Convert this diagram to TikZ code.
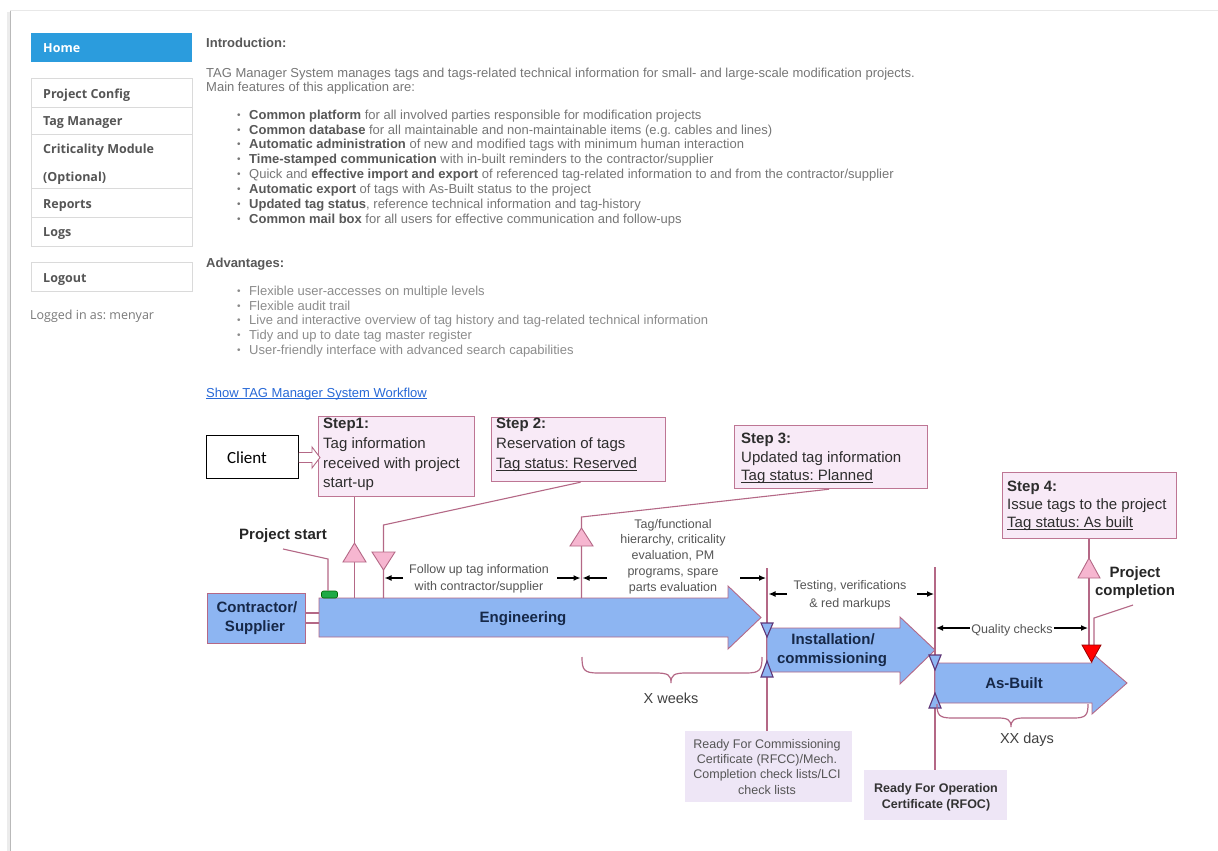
\documentclass[tikz,border=0pt]{standalone}
\usepackage{fontspec}
\setmainfont{Liberation Sans}
\newfontfamily\osans{Open Sans}
\newfontfamily\carl{Carlito}
\usetikzlibrary{arrows.meta}
\frenchspacing
\definecolor{linec}{RGB}{180,104,134}
\definecolor{boxc}{RGB}{190,118,148}
\definecolor{stepfill}{RGB}{248,234,247}
\definecolor{pinkfill}{RGB}{246,182,208}
\definecolor{arrowfill}{RGB}{141,181,242}
\definecolor{btric}{RGB}{95,55,120}
\definecolor{navy}{RGB}{22,40,72}
\definecolor{stepc}{RGB}{45,45,45}
\definecolor{smallc}{RGB}{85,85,85}
\definecolor{homeblue}{RGB}{43,156,221}
\definecolor{sidec}{RGB}{85,85,85}
\definecolor{sideline}{RGB}{218,218,218}
\definecolor{introreg}{RGB}{118,118,118}
\definecolor{introbold}{RGB}{88,88,88}
\definecolor{advc}{RGB}{140,140,140}
\definecolor{linkc}{RGB}{40,105,215}
\definecolor{lavfill}{RGB}{238,230,246}
\definecolor{gmark}{RGB}{30,170,70}
\newcommand\hb[1]{\textcolor{introbold}{\textbf{#1}}}
\newcommand\bul{\makebox[12pt][l]{\raisebox{0.5pt}{\fontsize{10}{10}\selectfont\textbullet}}}
\newcommand\ulin[1]{\underline{\smash{#1}}}
\begin{document}
\begin{tikzpicture}[x=1pt,y=-1pt,
  ln/.style={draw=linec, line width=1.1pt},
  sidebox/.style={draw=sideline, line width=0.8pt, anchor=north west, inner sep=0},
  sidetx/.style={anchor=mid west, inner sep=0, yshift=-3pt, text=sidec, font=\osans\bfseries\fontsize{12.5}{15}\selectfont},
  ptxt/.style={anchor=mid west, inner sep=0, yshift=-2.5pt, text=introreg, font=\fontsize{13}{15}\selectfont},
  atxt/.style={anchor=mid west, inner sep=0, yshift=-2.5pt, text=advc, font=\fontsize{13}{15}\selectfont},
  stepbox/.style={draw=boxc, fill=stepfill, line width=1.2pt, anchor=north west, inner sep=0},
  steptx/.style={anchor=mid west, inner sep=0, yshift=-3pt, text=stepc, font=\fontsize{15}{18}\selectfont},
  smalltx/.style={anchor=mid, inner sep=0, yshift=-2.5pt, text=smallc, font=\fontsize{12.5}{15}\selectfont},
  boldtx/.style={anchor=mid, inner sep=0, yshift=-3pt, text=black!85, font=\bfseries\fontsize{15}{18}\selectfont},
  navytx/.style={anchor=mid, inner sep=0, yshift=-3pt, text=navy, font=\bfseries\fontsize{15}{18}\selectfont},
  blockarrow/.style={fill=arrowfill, draw=linec, line width=0.9pt},
  ptri/.style={fill=pinkfill, draw=linec, line width=0.9pt},
  btri/.style={fill=arrowfill, draw=btric, line width=1.1pt},
  dimarr/.style={-{Latex[length=7pt,width=6pt]}, line width=1.3pt, black},
  lavbox/.style={fill=lavfill, anchor=north west, inner sep=0},
]
\useasboundingbox (0,0) rectangle (1218,851);
\fill[white] (0,0) rectangle (1218,851);
% page frame
\draw[gray!18, line width=1pt] (10,11) -- (1218,11);
\draw[gray!15, line width=3pt] (8,12) -- (8,851);
\draw[gray!55, line width=1.3pt] (10.5,11) -- (10.5,851);

% ---------- sidebar ----------
\node[anchor=north west, fill=homeblue, minimum width=161pt, minimum height=29pt, inner sep=0] (home) at (31,33) {};
\node[sidetx, text=white] (hometx) at (43,47) {Home};
\node[sidebox, minimum width=161pt, minimum height=168pt] (menu) at (31,78) {};
\foreach \yy in {107,134,188,217} \draw[sideline, line width=0.8pt] (31,\yy) -- (192,\yy);
\node[sidetx] (m1) at (43,93) {Project Config};
\node[sidetx] (m2) at (43,120) {Tag Manager};
\node[sidetx] (m3) at (43,148) {Criticality Module};
\node[sidetx] (m4) at (43,176) {(Optional)};
\node[sidetx] (m5) at (43,203) {Reports};
\node[sidetx] (m6) at (43,231) {Logs};
\node[sidebox, minimum width=161pt, minimum height=29pt] (logout) at (31,262) {};
\node[sidetx] (logouttx) at (43,277) {Logout};
\node[sidetx, font=\osans\fontsize{12.5}{15}\selectfont, text=gray!95!black] (logged) at (30,314) {Logged in as: menyar};

% ---------- introduction ----------
\node[ptxt, text=introbold, font=\bfseries\fontsize{13}{15}\selectfont] (intro) at (206,42) {Introduction:};
\node[ptxt] (p1) at (206,72) {TAG Manager System manages tags and tags-related technical information for small- and large-scale modification projects.};
\node[ptxt] (p2) at (206,86) {Main features of this application are:};
\node[ptxt] (b1) at (237,114) {\bul\hb{Common platform} for all involved parties responsible for modification projects};
\node[ptxt] (b2) at (237,129) {\bul\hb{Common database} for all maintainable and non-maintainable items (e.g. cables and lines)};
\node[ptxt] (b3) at (237,143) {\bul\hb{Automatic administration} of new and modified tags with minimum human interaction};
\node[ptxt] (b4) at (237,158) {\bul\hb{Time-stamped communication} with in-built reminders to the contractor/supplier};
\node[ptxt] (b5) at (237,173) {\bul Quick and \hb{effective import and export} of referenced tag-related information to and from the contractor/supplier};
\node[ptxt] (b6) at (237,188) {\bul\hb{Automatic export} of tags with As-Built status to the project};
\node[ptxt] (b7) at (237,203) {\bul\hb{Updated tag status}, reference technical information and tag-history};
\node[ptxt] (b8) at (237,218) {\bul\hb{Common mail box} for all users for effective communication and follow-ups};

\node[ptxt, text=introbold, font=\bfseries\fontsize{13}{15}\selectfont] (adv) at (206,262) {Advantages:};
\node[atxt] (a1) at (237,290) {\bul Flexible user-accesses on multiple levels};
\node[atxt] (a2) at (237,305) {\bul Flexible audit trail};
\node[atxt] (a3) at (237,319) {\bul Live and interactive overview of tag history and tag-related technical information};
\node[atxt] (a4) at (237,334) {\bul Tidy and up to date tag master register};
\node[atxt] (a5) at (237,349) {\bul User-friendly interface with advanced search capabilities};
\node[ptxt, text=linkc] (link) at (206,392) {\ulin{Show TAG Manager System Workflow}};

% ---------- diagram: vertical lines (behind) ----------
\node[lavbox, minimum width=167pt, minimum height=71pt] (rfcc) at (685,731) {};
\node[lavbox, minimum width=143pt, minimum height=50pt] (rfoc) at (864,770) {};
\coordinate (v1t) at (767,568);
\coordinate (v2t) at (935,567);
\draw[ln, line width=1.3pt] (v1t) -- (v1t |- rfcc.north);
\draw[ln, line width=1.3pt] (v2t) -- (v2t |- rfoc.north);

% ---------- block arrows ----------
\filldraw[blockarrow] (319,598) -- (728,598) -- (728,586) -- (761,617.5) -- (728,649) -- (728,637) -- (319,637) -- cycle;
\filldraw[blockarrow] (767,628) -- (900,628) -- (900,617) -- (935,650) -- (900,684) -- (900,672) -- (767,672) -- cycle;
\filldraw[blockarrow] (935,663) -- (1092,663) -- (1092,653) -- (1127,683) -- (1092,714) -- (1092,703) -- (935,703) -- cycle;
\node[navytx] (eng) at (523,617) {Engineering};
\node[navytx] (inst1) at (833,639) {Installation/};
\node[navytx] (inst2) at (832,658) {commissioning};
\node[navytx] (asb) at (1014,683) {As-Built};

% contractor box
\node[anchor=north west, fill=arrowfill, draw=linec, line width=1.2pt, minimum width=98pt, minimum height=50pt, inner sep=0] (ctr) at (207,593) {};
\node[navytx] (ctr1) at (257,607) {Contractor/};
\node[navytx] (ctr2) at (255,626) {Supplier};
\draw[ln] (ctr.east |- 0,613) -- (319,613);
\draw[ln] (ctr.east |- 0,623) -- (319,623);

% ---------- client and steps ----------
\node[draw=black, fill=white, line width=0.8pt, anchor=north west, minimum width=92pt, minimum height=43pt, inner sep=0] (client) at (206,435) {};
\node[inner sep=0, font=\carl\fontsize{17}{20}\selectfont] (clienttx) at (247,458) {Client};

\node[stepbox, minimum width=156pt, minimum height=80pt] (s1) at (318,416) {};
\node[stepbox, minimum width=174pt, minimum height=64pt] (s2) at (491,417) {};
\node[stepbox, minimum width=193pt, minimum height=63pt] (s3) at (734,425) {};
\node[stepbox, minimum width=174pt, minimum height=66pt] (s4) at (1002,472) {};

\filldraw[draw=linec, fill=white, line width=0.9pt] (client.east |- 0,452.5) -- (312,452.5) -- (312,447) -- (320,457.5) -- (312,468) -- (312,462.5) -- (client.east |- 0,462.5);

\node[steptx] (s1a) at (323,423) {\textbf{Step1:}};
\node[steptx] (s1b) at (323,443) {Tag information};
\node[steptx] (s1c) at (323,463) {received with project};
\node[steptx] (s1d) at (323,482) {start-up};
\node[steptx] (s2a) at (496,423) {\textbf{Step 2:}};
\node[steptx] (s2b) at (496,443) {Reservation of tags};
\node[steptx] (s2c) at (496,463) {\ulin{Tag status: Reserved}};
\node[steptx] (s3a) at (741,438) {\textbf{Step 3:}};
\node[steptx] (s3b) at (741,457) {Updated tag information};
\node[steptx] (s3c) at (741,475) {\ulin{Tag status: Planned}};
\node[steptx] (s4a) at (1007,486) {\textbf{Step 4:}};
\node[steptx] (s4b) at (1007,504) {Issue tags to the project};
\node[steptx] (s4c) at (1007,522) {\ulin{Tag status: As built}};

% ---------- connectors from steps ----------
\coordinate (e1) at (354.5,598);
\coordinate (e2) at (383.5,598);
\coordinate (e3) at (581.5,598);
\coordinate (e4) at (1089,645);
\draw[ln] (s1.south -| e1) -- (e1);
\draw[ln] ([xshift=2pt]s2.south) -- (383.5,525) -- (e2);
\draw[ln] ([xshift=-2pt]s3.south) -- (581.5,517) -- (e3);
\draw[ln] (s4.south -| e4) -- (e4);
\filldraw[ptri] (343,562) -- (366,562) -- (354.5,543) -- cycle;
\filldraw[ptri] (372,552) -- (395,552) -- (383.5,570) -- cycle;
\filldraw[ptri] (570,546) -- (593,546) -- (581.5,528) -- cycle;
\filldraw[ptri] (1078,578) -- (1100,578) -- (1089,558) -- cycle;

% project start
\node[boldtx] (ps) at (283,534) {Project start};
\coordinate (psl) at (283,549);
\node[fill=gmark, draw=green!40!black, line width=0.6pt, rounded corners=2pt, minimum width=16pt, minimum height=7pt, inner sep=0] (gm) at (329.5,594.5) {};
\draw[ln] (psl) -- (328,559) -- (gm.north -| 328,0);

% project completion
\node[boldtx] (pc1) at (1135,572) {Project};
\node[boldtx] (pc2) at (1135,590) {completion};
\coordinate (pcl) at (1133,605);
\draw[ln] (pcl) -- (1094,618) -- (1094,645);
\filldraw[fill=red, draw=red!60!black, line width=0.8pt] (1082,645) -- (1101,645) -- (1091.5,662) -- cycle;

% blue triangles on stage boundaries
\filldraw[btri] (761,623) -- (773,623) -- (767,637) -- cycle;
\filldraw[btri] (761,677) -- (773,677) -- (767,661) -- cycle;
\filldraw[btri] (929,655) -- (941,655) -- (935,670) -- cycle;
\filldraw[btri] (929,708) -- (941,708) -- (935,693) -- cycle;

% ---------- annotation texts and dimension arrows ----------
\node[smalltx] (fu1) at (479,568) {Follow up tag information};
\node[smalltx] (fu2) at (479,585) {with contractor/supplier};
\draw[dimarr] (403,578) -- (384.5,578);
\draw[dimarr] (557,578) -- (580.5,578);
\draw[dimarr] (607,578) -- (582.5,578);

\node[smalltx] (tf1) at (673,523) {Tag/functional};
\node[smalltx] (tf2) at (673,538) {hierarchy, criticality};
\node[smalltx] (tf3) at (673,554) {evaluation, PM};
\node[smalltx] (tf4) at (673,570) {programs, spare};
\node[smalltx] (tf5) at (673,586) {parts evaluation};
\draw[dimarr] (740,578) -- (766,578);

\node[smalltx] (tv1) at (850,584) {Testing, verifications};
\node[smalltx] (tv2) at (850,602) {\& red markups};
\draw[dimarr] (787,594) -- (768.5,594);
\draw[dimarr] (917,594) -- (934,594);

\coordinate (qa) at (936,628);
\coordinate (qb) at (1088,628);
\draw[dimarr, {Latex[length=7pt,width=6pt]}-{Latex[length=7pt,width=6pt]}] (qa) -- (qb);
\node[smalltx, fill=white, inner xsep=1pt, inner ysep=1pt] (qc) at (1012,628) {Quality checks};

% braces
\draw[ln, line width=1.2pt] (582,657) .. controls (582,670) and (584,673) .. (598,673) -- (656,673) .. controls (668,673) and (671,675) .. (671,683) .. controls (671,675) and (674,673) .. (686,673) -- (746,673) .. controls (760,673) and (762,670) .. (762,657);
\node[inner sep=0, text=black!75, font=\fontsize{14.5}{17}\selectfont] (xw) at (671,698) {X weeks};
\draw[ln, line width=1.2pt] (937,704) .. controls (937,715) and (939,718) .. (952,718) -- (998,718) .. controls (1008,718) and (1011,720) .. (1011,727) .. controls (1011,720) and (1014,718) .. (1024,718) -- (1074,718) .. controls (1086,718) and (1088,715) .. (1088,704);
\node[inner sep=0, text=black!75, font=\fontsize{14.5}{17}\selectfont] (xd) at (1027,740) {XX days};

% certificate labels
\node[smalltx] (rc1) at (767,743) {Ready For Commissioning};
\node[smalltx] (rc2) at (767,758) {Certificate (RFCC)/Mech.};
\node[smalltx] (rc3) at (767,773) {Completion check lists/LCI};
\node[smalltx] (rc4) at (767,789) {check lists};
\node[smalltx, text=black!80, font=\bfseries\fontsize{12.5}{15}\selectfont] (ro1) at (936,787) {Ready For Operation};
\node[smalltx, text=black!80, font=\bfseries\fontsize{12.5}{15}\selectfont] (ro2) at (936,803) {Certificate (RFOC)};
\end{tikzpicture}
\end{document}
